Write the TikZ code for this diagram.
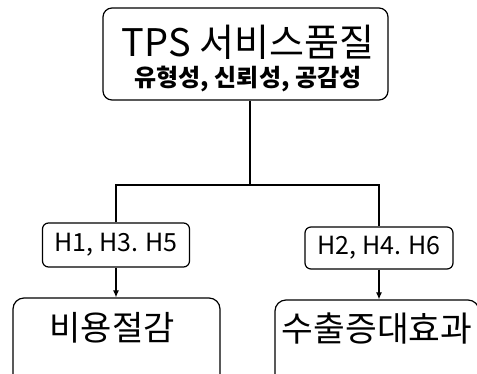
\documentclass[tikz,border=0pt]{standalone}
\usepackage{fontspec}
\setmainfont{Noto Sans CJK KR}
\usetikzlibrary{arrows.meta}
\tikzset{
  box/.style={draw=black, line width=1.2pt, rounded corners=#1, inner sep=0pt},
  box/.default=8pt,
  conn/.style={draw=black, line width=1.1pt},
  arr/.style={conn, -{Latex[length=7pt,width=6pt]}},
  txt/.style={inner sep=0pt, text=black}
}
\begin{document}
\begin{tikzpicture}[x=1pt,y=-1pt]
\useasboundingbox (0,0) rectangle (477,373);
\clip (0,0) rectangle (477,373);
% top box
\node[box=9pt, minimum width=285pt, minimum height=92pt] (top) at (245.5,54) {};
\node[txt, font=\fontsize{38}{40}\selectfont] (t1) at (248,42) {TPS 서비스품질};
\node[txt, font=\bfseries\fontsize{24}{26}\selectfont] (t2) at (248,79) {유형성, 신뢰성, 공감성};
% hypothesis boxes
\node[box=6pt, minimum width=147pt, minimum height=44pt, font=\fontsize{25}{27}\selectfont] (h1) at (116,245) {H1, H3. H5};
\node[box=6pt, minimum width=148pt, minimum height=42pt, font=\fontsize{25}{27}\selectfont] (h2) at (379,248) {H2, H4. H6};
% outcome boxes
\node[box=11pt, minimum width=207pt, minimum height=100pt] (b1) at (116.5,348) {};
\node[box=11pt, minimum width=204pt, minimum height=100pt] (b2) at (377,350) {};
\node[txt, font=\fontsize{34}{36}\selectfont] (b1t) at (112,328) {비용절감};
\node[txt, font=\fontsize{34.5}{36}\selectfont] (b2t) at (377,328) {수출증대효과};
% connectors
\coordinate (j) at (250,185);
\draw[conn] (j |- top.south) -- (j);
\draw[conn] (h1.north) -- (h1.north |- j) -- (h2.north |- j) -- (h2.north);
\draw[arr] (h1.south) -- (h1.south |- b1.north);
\draw[arr] (h2.south) -- (h2.south |- b2.north);
\end{tikzpicture}
\end{document}
